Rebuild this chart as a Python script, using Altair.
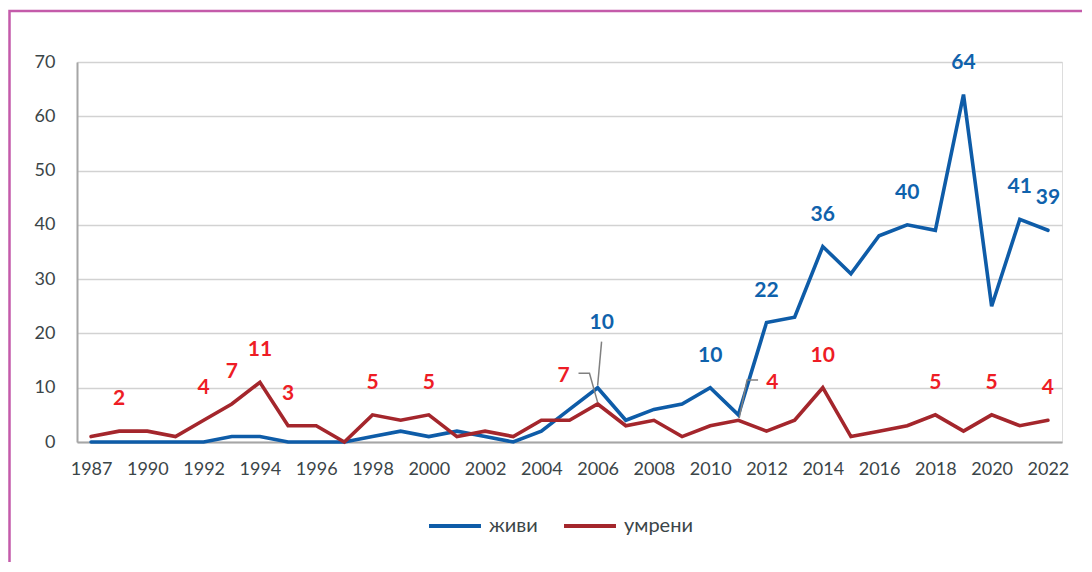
import altair as alt
import pandas as pd

# ---- data ----
years = ["1987", "1989", "1990", "1991", "1992", "1993", "1994", "1995", "1996",
         "1997", "1998", "1999", "2000", "2001", "2002", "2003", "2004", "2005",
         "2006", "2007", "2008", "2009", "2010", "2011", "2012", "2013", "2014",
         "2015", "2016", "2017", "2018", "2019", "2020", "2021", "2022"]
zhivi = [0, 0, 0, 0, 0, 1, 1, 0, 0, 0, 1, 2, 1, 2, 1, 0, 2, 6, 10, 4, 6, 7, 10, 5,
         22, 23, 36, 31, 38, 40, 39, 64, 25, 41, 39]
umreni = [1, 2, 2, 1, 4, 7, 11, 3, 3, 0, 5, 4, 5, 1, 2, 1, 4, 4, 7, 3, 4, 1, 3, 4,
          2, 4, 10, 1, 2, 3, 5, 2, 5, 3, 4]
series_names = ["живи", "умрени"]
tick_years = ["1987", "1990", "1992", "1994", "1996", "1998", "2000", "2002", "2004",
              "2006", "2008", "2010", "2012", "2014", "2016", "2018", "2020", "2022"]

# which points carry a data label
zhivi_labels = ["2010", "2012", "2014", "2017", "2019", "2021", "2022"]
umreni_labels = ["1989", "1992", "1993", "1994", "1995", "1998", "2000", "2014",
                 "2018", "2020", "2022"]
# labels moved away with a leader line: (series, year, dx, dy)
moved_labels = [("живи", "2006", 4, -65), ("умрени", "2006", -34, -28),
                ("умрени", "2011", 34, -37)]
# leader lines in data space: (id, position index, value)
leader_id = ["a", "a", "b", "b", "b", "c", "c", "c"]
leader_x = [18.14, 18.0, 17.32, 17.71, 18.0, 23.7, 23.31, 23.03]
leader_y = [18.5, 10.4, 12.65, 12.65, 7.3, 11.4, 11.4, 4.4]

BLUE = "#0E5CA8"
RED = "#A4262C"
BLUE_TXT = "#0F62AC"
RED_TXT = "#EE1C25"
TXT = "#3B4548"
FONT = "Lato"

rows = []
for i, y in enumerate(years):
    rows.append({"idx": i, "year": y, "series": "живи", "value": zhivi[i]})
for i, y in enumerate(years):
    rows.append({"idx": i, "year": y, "series": "умрени", "value": umreni[i]})
df = pd.DataFrame(rows)
df["tcolor"] = df["series"].map({"живи": BLUE_TXT, "умрени": RED_TXT})

lab = df[((df.series == "живи") & df.year.isin(zhivi_labels)) |
         ((df.series == "умрени") & df.year.isin(umreni_labels))].copy()

label_expr = "[" + ",".join("'%s'" % y for y in years) + "][datum.value]"
tick_idx = [years.index(t) for t in tick_years]

x = alt.X("idx:Q",
          scale=alt.Scale(domain=[-0.5, len(years) - 0.5], nice=False, zero=False),
          axis=alt.Axis(values=tick_idx, labelExpr=label_expr, title=None, grid=False,
                        ticks=False, domainColor="#A6A6A6", domainWidth=2,
                        labelFont=FONT, labelFontSize=18, labelColor=TXT,
                        labelPadding=18, labelFlush=False, labelOverlap=False))
y = alt.Y("value:Q",
          scale=alt.Scale(domain=[0, 70], nice=False),
          axis=alt.Axis(values=list(range(0, 71, 10)), title=None, ticks=False,
                        gridColor="#D2D2D2", gridWidth=1.5,
                        domainColor="#A6A6A6", domainWidth=2,
                        labelFont=FONT, labelFontSize=18, labelColor=TXT,
                        labelPadding=22))

color = alt.Color("series:N",
                  scale=alt.Scale(domain=series_names, range=[BLUE, RED]),
                  sort=series_names,
                  legend=alt.Legend(title=None, orient="none", direction="horizontal",
                                    legendX=350, legendY=436,
                                    symbolType="stroke", symbolSize=2700,
                                    symbolStrokeWidth=4, labelFont=FONT,
                                    labelFontSize=20, labelColor=TXT,
                                    labelOffset=6, columnPadding=18))

lines = alt.Chart(df).mark_line(strokeWidth=3.6, strokeCap="round").encode(
    x=x, y=y, color=color, order="idx:Q")

labels = alt.Chart(lab).mark_text(
    dy=-32, font=FONT, fontSize=21, fontWeight="bold", baseline="middle"
).encode(x="idx:Q", y="value:Q", text="value:Q",
         color=alt.Color("tcolor:N", scale=None, legend=None))

moved_layers = []
for s, yr, dx, dy in moved_labels:
    sub = df[(df.series == s) & (df.year == yr)]
    moved_layers.append(
        alt.Chart(sub).mark_text(dx=dx, dy=dy, font=FONT, fontSize=21,
                                 fontWeight="bold", baseline="middle")
        .encode(x="idx:Q", y="value:Q", text="value:Q",
                color=alt.Color("tcolor:N", scale=None, legend=None)))

leaders = alt.Chart(pd.DataFrame({"id": leader_id, "lx": leader_x, "ly": leader_y,
                                  "o": list(range(len(leader_id)))})).mark_line(
    color="#808080", strokeWidth=1.5).encode(
    x="lx:Q", y="ly:Q", detail="id:N", order="o:Q")

frame = alt.Chart(pd.DataFrame({"k": [0]})).mark_rect(
    fill=None, stroke="#C45BAA", strokeWidth=2.5).encode(
    x=alt.value(-67.5), x2=alt.value(1200), y=alt.value(-51), y2=alt.value(700))

chart = alt.layer(frame, lines, leaders, labels, *moved_layers).properties(
    width=985, height=380,
    autosize=alt.AutoSizeParams(type="none"),
    padding={"left": 69, "top": 54, "right": 20, "bottom": 120},
).configure_view(stroke=None).configure(background="white")

chart.save("out.html", embed_options={"renderer": "svg", "actions": False})
